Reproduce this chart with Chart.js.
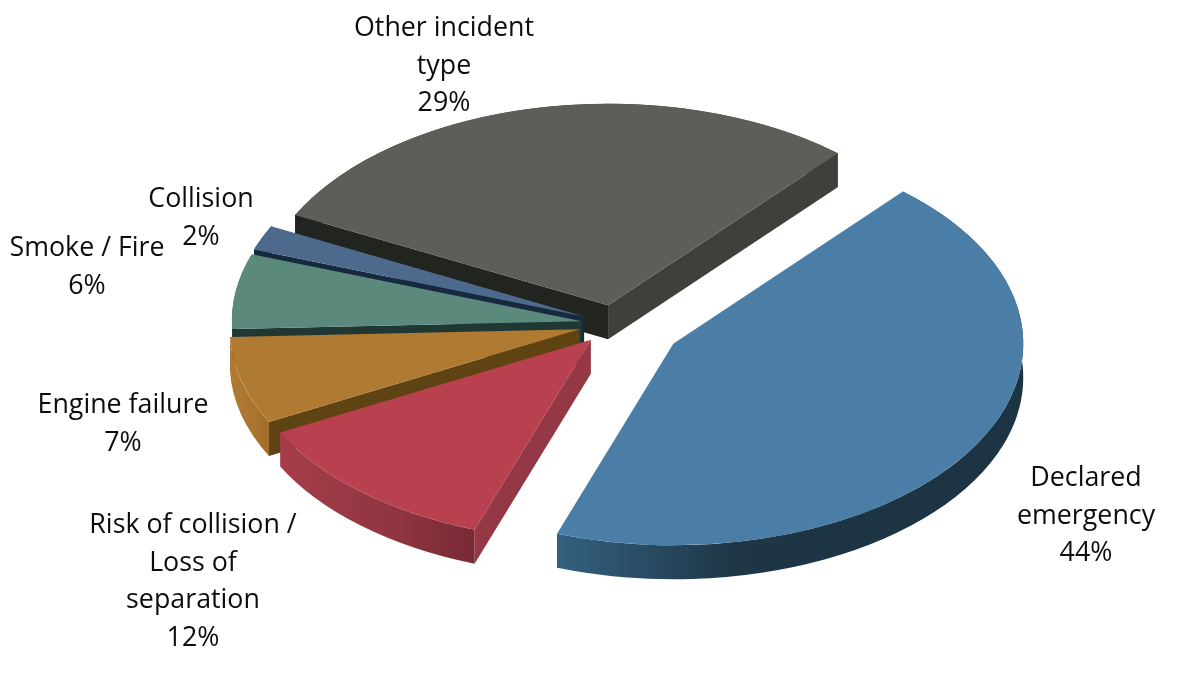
<!DOCTYPE html>
<html>
<head>
<meta charset="utf-8">
<script src="https://cdn.jsdelivr.net/npm/chart.js@4/dist/chart.umd.js"></script>
<style>
  body { margin: 0; background: #fff; }
</style>
</head>
<body>
<canvas id="chart" width="1200" height="683"></canvas>
<script>
const categories = ["Declared emergency", "Risk of collision / Loss of separation", "Engine failure", "Smoke / Fire", "Collision", "Other incident type"];
const shares = [44, 12, 7, 6, 2, 29];

const labelLines = [["Declared", "emergency"], ["Risk of collision /", "Loss of", "separation"], ["Engine failure"], ["Smoke / Fire"], ["Collision"], ["Other incident", "type"]];
const labelX = [1086, 193, 123, 87, 201, 444];
const labelY = [478.5, 525.5, 405.5, 248.5, 199.5, 28.5];

const topColors = ["#4a7ea6", "#b8404f", "#b17a32", "#5b8a7c", "#4d6a8d", "#5c5f58"];
const rimColors = [["#34607f", "#1e3646", "#1d3444"], ["#a63e4a", "#8f3540", "#772a34"], ["#b07a32", "#a9752f", "#a06c28"], ["#4f7a6c", "#4f7a6c", "#4f7a6c"], ["#3e5a76", "#3e5a76", "#3e5a76"], ["#3e403a", "#3e403a", "#3e403a"]];
const startFaces = ["#1d3444", "#933844", "#5f4313", "#1f3833", "#16293f", "#22241f"];
const endFaces = ["#1d3444", "#933844", "#5f4313", "#1f3833", "#16293f", "#3e403a"];

// how far each slice is pulled out of the pie, before squashing
const explode = [68, 36, 36, 33, 33, 33];

// the pie is drawn flat by chart.js and then squashed into this ellipse
const CX = 614.5, CY = 324, RADIUS = 350, TILT = 0.576, DEPTH = 34;

const pie3d = {
  id: "pie3d",
  beforeDatasetsDraw(chart) {
    const ctx = chart.ctx;
    const arcs = chart.getDatasetMeta(0).data;
    // back slices first so the front ones cover them
    for (let i = arcs.length - 1; i >= 0; i--) {
      const arc = arcs[i];
      const mid = (arc.startAngle + arc.endAngle) / 2;
      const px = CX + Math.cos(mid) * explode[i];
      const py = CY + Math.sin(mid) * explode[i] * TILT;
      const ry = RADIUS * TILT;

      const x0 = px + Math.cos(arc.startAngle) * RADIUS;
      const x1 = px + Math.cos(arc.endAngle) * RADIUS;
      const left = Math.min(x0, x1);
      const grad = ctx.createLinearGradient(left, 0, left + Math.min(300, Math.abs(x0 - x1)), 0);
      grad.addColorStop(0, rimColors[i][0]);
      grad.addColorStop(0.6, rimColors[i][1]);
      grad.addColorStop(1, rimColors[i][2]);

      ctx.fillStyle = grad;
      ctx.beginPath();
      ctx.ellipse(px, py, RADIUS, ry, 0, arc.startAngle, arc.endAngle);
      ctx.ellipse(px, py + DEPTH, RADIUS, ry, 0, arc.endAngle, arc.startAngle, true);
      ctx.closePath();
      ctx.fill();

      // a cut face only shows when it points towards the viewer
      const faces = [];
      if (Math.cos(arc.startAngle) < 0) faces.push([arc.startAngle, startFaces[i]]);
      if (Math.cos(arc.endAngle) > 0) faces.push([arc.endAngle, endFaces[i]]);
      faces.forEach(([a, color]) => {
        const rimX = px + Math.cos(a) * RADIUS;
        const rimY = py + Math.sin(a) * ry;
        ctx.fillStyle = color;
        ctx.beginPath();
        ctx.moveTo(px, py);
        ctx.lineTo(rimX, rimY);
        ctx.lineTo(rimX, rimY + DEPTH);
        ctx.lineTo(px, py + DEPTH);
        ctx.closePath();
        ctx.fill();
      });
    }
  },
  // the top faces: each arc element draws itself, moved out by its own explode
  beforeDatasetDraw(chart) {
    const ctx = chart.ctx;
    chart.getDatasetMeta(0).data.forEach((arc, i) => {
      const k = RADIUS / arc.outerRadius;
      const mid = (arc.startAngle + arc.endAngle) / 2;
      ctx.save();
      ctx.translate(CX + Math.cos(mid) * explode[i], CY + Math.sin(mid) * explode[i] * TILT);
      ctx.scale(k, k * TILT);
      ctx.translate(-arc.x, -arc.y);
      arc.draw(ctx);
      ctx.restore();
    });
    return false;
  },
  afterDraw(chart) {
    const ctx = chart.ctx;
    ctx.save();
    ctx.fillStyle = "#0d0d0d";
    ctx.font = '26.8px "Open Sans"';
    ctx.textAlign = "center";
    ctx.textBaseline = "middle";
    labelLines.forEach((lines, i) => {
      [...lines, shares[i] + "%"].forEach((line, n) => {
        ctx.fillText(line, labelX[i], labelY[i] + n * 37.6);
      });
    });
    ctx.restore();
  }
};

new Chart(document.getElementById("chart"), {
  type: "pie",
  data: {
    labels: categories,
    datasets: [{
      data: shares,
      backgroundColor: topColors,
      borderWidth: 0
    }]
  },
  options: {
    responsive: false,
    animation: false,
    rotation: 41,
    plugins: {
      legend: { display: false },
      tooltip: { enabled: false }
    }
  },
  plugins: [pie3d]
});
</script>
</body>
</html>
